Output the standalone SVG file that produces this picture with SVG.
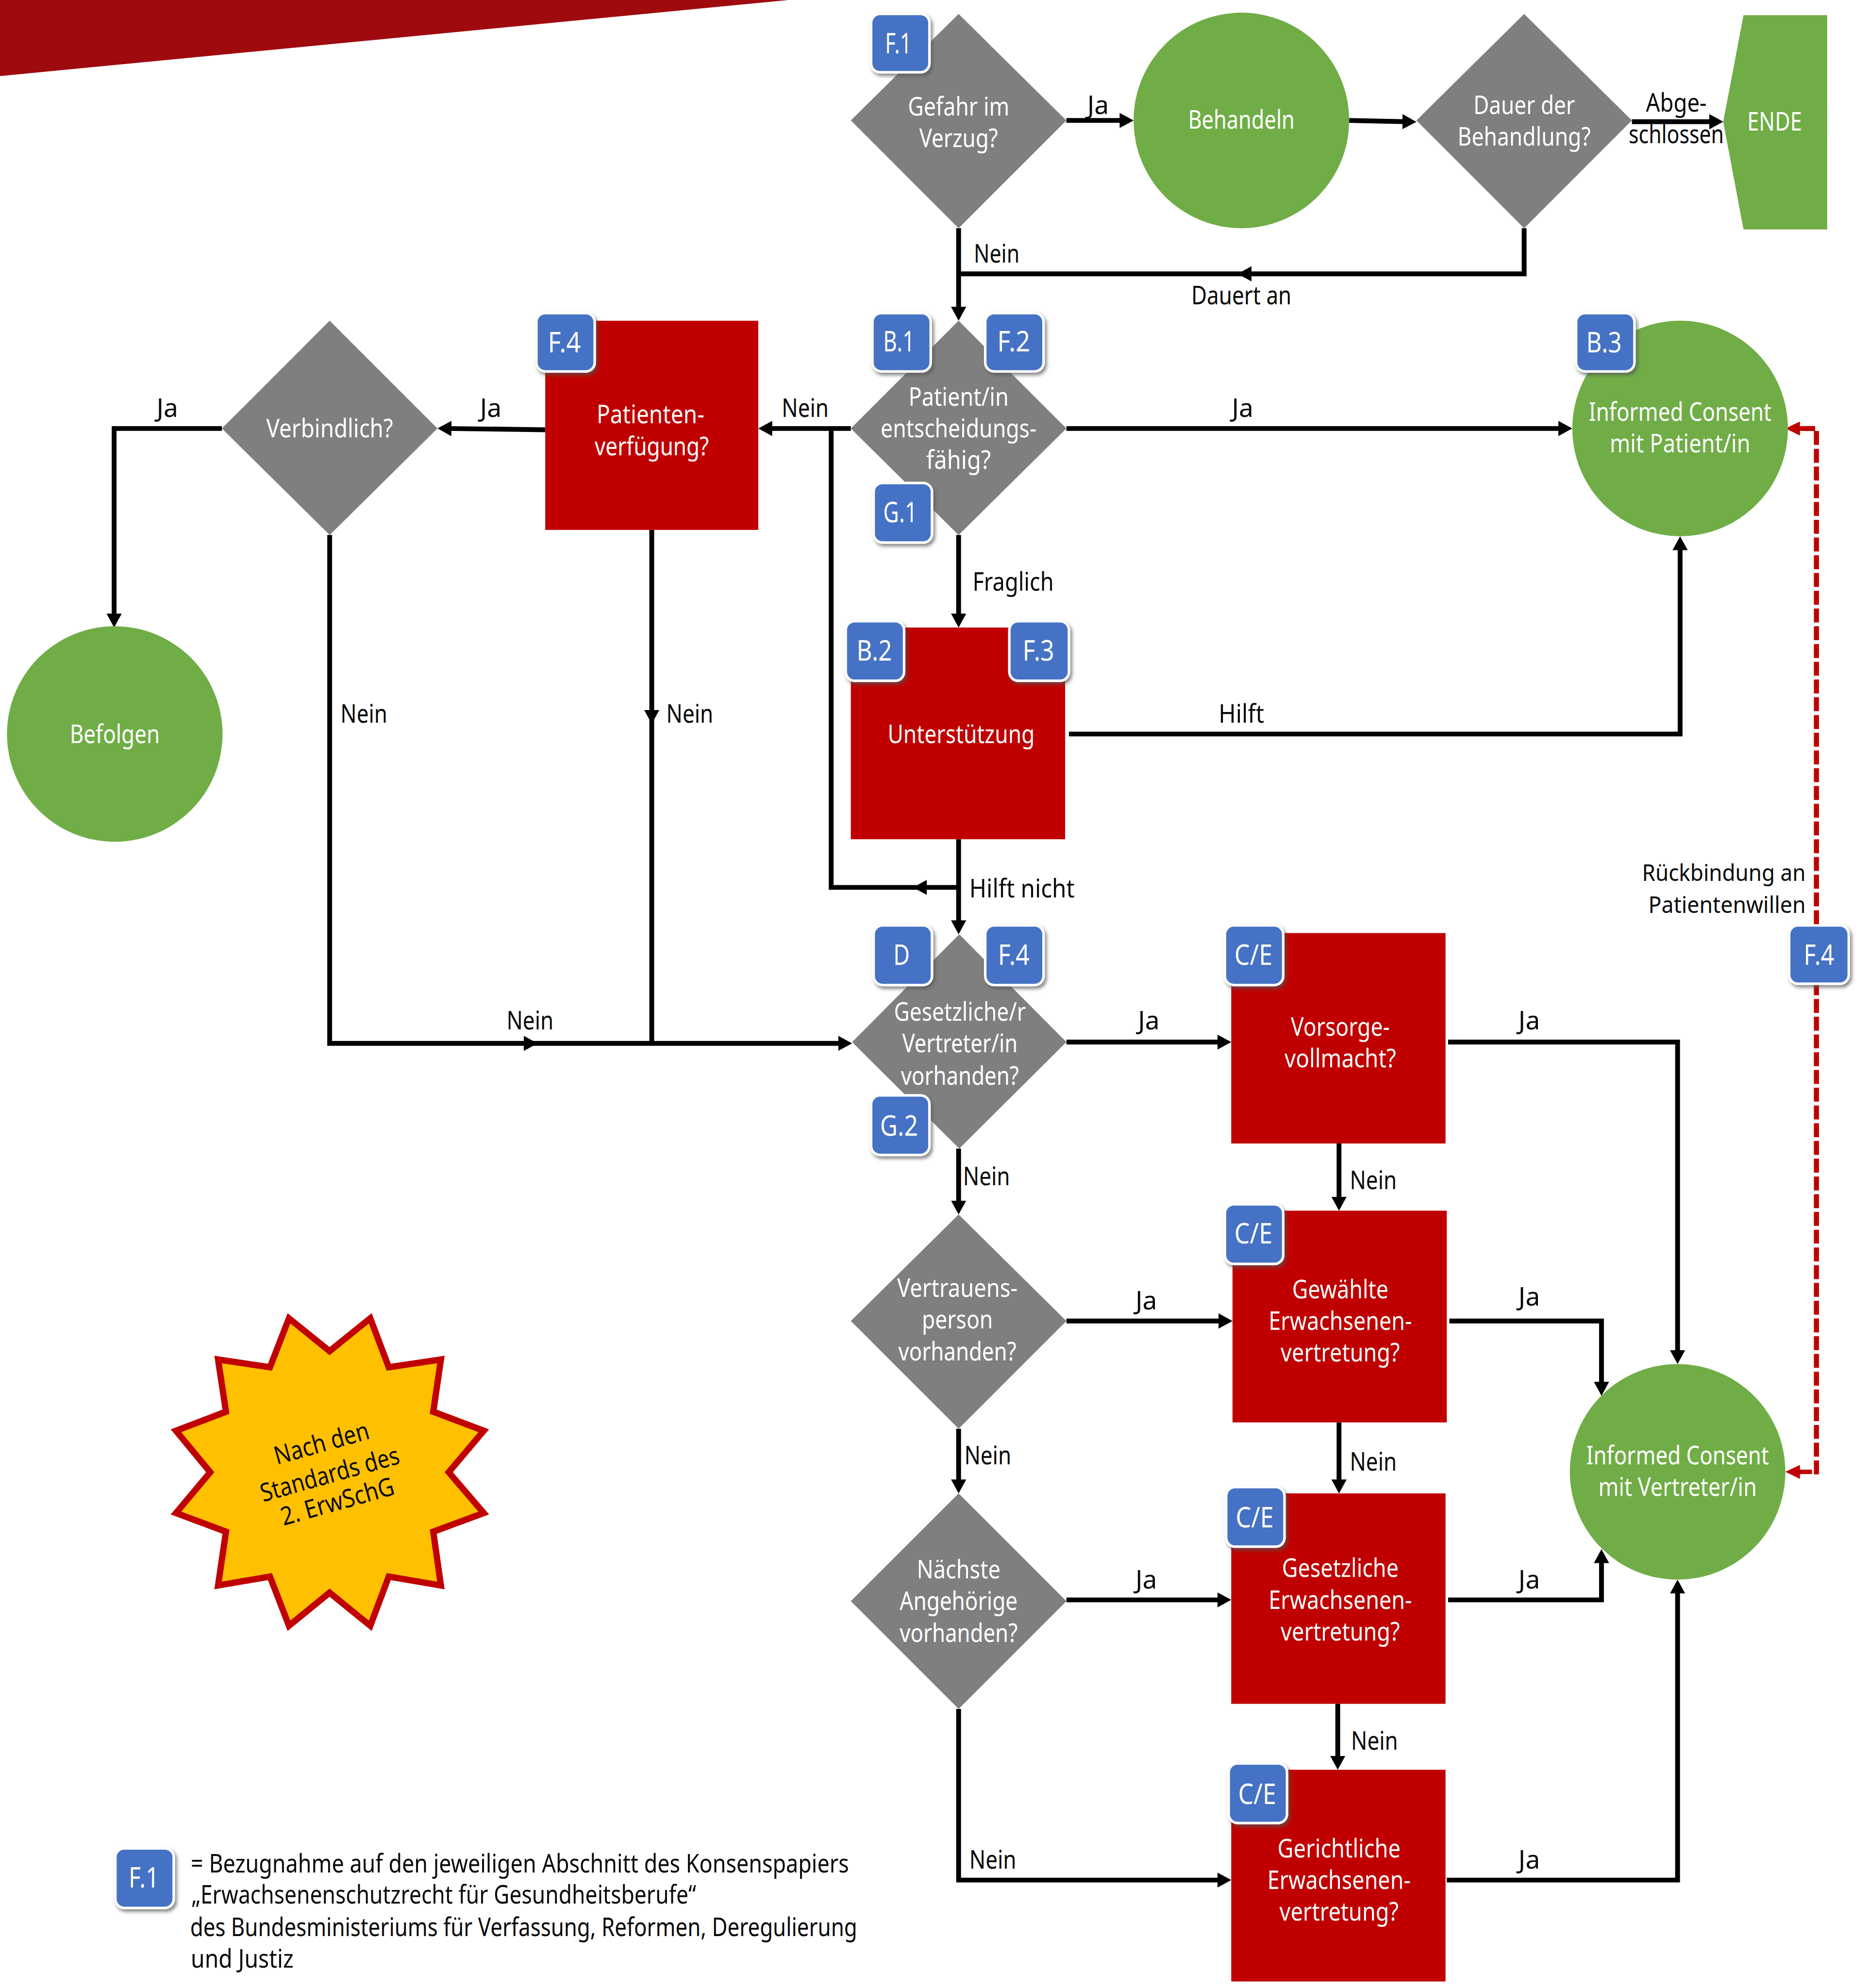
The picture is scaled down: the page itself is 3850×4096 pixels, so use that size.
<svg xmlns="http://www.w3.org/2000/svg" width="3850" height="4096" viewBox="0 0 3850 4096">
<style>
text{font-family:"Noto Sans","Open Sans","Liberation Sans",sans-serif;font-size:20px;text-anchor:middle}
.w{fill:#fff}
.k{fill:#0a0a0a}
.s{font-size:18px}
.dia{fill:#7f7f7f}
.grn{fill:#70ad47}
.red{fill:#c00000}
.b rect{fill:#4472c4;stroke:#fff;stroke-width:2;filter:url(#sh)}
.b text{fill:#fff;font-size:22px}
.c{fill:none;stroke:#000;stroke-width:3.8;stroke-linejoin:miter}
.a{marker-end:url(#ah)}
.rd{fill:none;stroke:#c00000;stroke-width:4;stroke-dasharray:11 3}
</style>
<defs>
<marker id="ah" markerUnits="userSpaceOnUse" markerWidth="13" markerHeight="13" viewBox="0 0 13 13" refX="3" refY="6.500" orient="auto"><path d="M0,0.500 L11,6.500 L0,12.500z" fill="#000"/></marker>
<marker id="ar" markerUnits="userSpaceOnUse" markerWidth="12" markerHeight="12" viewBox="0 0 12 12" refX="2.500" refY="6" orient="auto"><path d="M0,0.500 L11.500,6 L0,11.500z" fill="#c00000"/></marker>
<filter id="sh" x="-20%" y="-20%" width="150%" height="150%"><feDropShadow dx="1.500" dy="2" stdDeviation="1.500" flood-color="#555" flood-opacity="0.7"/></filter>
</defs>
<g transform="scale(2.612)">
<polygon id="banner" points="0,0 622,0 0,60" fill="#9f0a0e"/>

<g id="connectors">
<path class="c a" d="M841,95H886"/>
<path class="c a" d="M1064,95L1109,96"/>
<path class="c a" d="M1287,96H1351"/>
<path class="c a" d="M756,180V245"/>
<path class="c a" d="M1202,180V216H984"/>
<path class="c" d="M985,216H756"/>
<path class="c a" d="M841,338H1232"/>
<path class="c a" d="M671,338H606"/>
<path class="c a" d="M430,339L353,338"/>
<path class="c a" d="M175,338H90V487"/>
<path class="c a" d="M756,422V487"/>
<path class="c a" d="M843,579H1325V431"/>
<path class="c a" d="M756,662V729"/>
<path class="c a" d="M756,700H728"/>
<path class="c" d="M730,700H655.500V338"/>
<path class="c a" d="M260,422V823H416"/>
<path class="c a" d="M415,823H664"/>
<path class="c a" d="M514,418V563"/>
<path class="c" d="M514,562V823"/>
<path class="c a" d="M841,822H963"/>
<path class="c a" d="M1142,822H1323V1068"/>
<path class="c a" d="M756,906V950"/>
<path class="c a" d="M1056,902V947"/>
<path class="c a" d="M841,1042H964"/>
<path class="c a" d="M1143,1042H1263V1093"/>
<path class="c a" d="M756,1127V1170"/>
<path class="c a" d="M1056,1122V1170"/>
<path class="c a" d="M841,1262H963"/>
<path class="c a" d="M1142,1262H1263V1230"/>
<path class="c a" d="M1055,1344V1388"/>
<path class="c a" d="M756,1348V1483H963"/>
<path class="c a" d="M1141,1483H1323V1254"/>
<path class="rd" d="M1432.500,1163V338H1420"/>
<path d="M1429,1161H1417" fill="none" stroke="#c00000" stroke-width="3.500" marker-end="url(#ar)"/>
<path d="M1421,338H1417" fill="none" stroke="#c00000" stroke-width="3.500" marker-end="url(#ar)"/>
</g>

<g id="n-gefahr"><polygon class="dia" points="756,11 841,95 756,180 671,95"/><text class="w" x="756" y="91" textLength="80" lengthAdjust="spacingAndGlyphs">Gefahr im</text><text class="w" x="756" y="116" textLength="62" lengthAdjust="spacingAndGlyphs">Verzug?</text></g>
<g id="n-behandeln"><circle class="grn" cx="979" cy="95" r="85"/><text class="w" x="979" y="101.500" textLength="84" lengthAdjust="spacingAndGlyphs">Behandeln</text></g>
<g id="n-dauer"><polygon class="dia" points="1202,11 1287,95 1202,180 1117,95"/><text class="w" x="1202" y="90" textLength="80" lengthAdjust="spacingAndGlyphs">Dauer der</text><text class="w" x="1202" y="115" textLength="105" lengthAdjust="spacingAndGlyphs">Behandlung?</text></g>
<g id="n-ende"><polygon class="grn" points="1375,12 1441,12 1441,181 1375,181 1359,96"/><text class="w" x="1399.500" y="103" textLength="43" lengthAdjust="spacingAndGlyphs">ENDE</text></g>
<g id="n-patient"><polygon class="dia" points="756,253 841,338 756,422 671,338"/><text class="w" x="756" y="320" textLength="79" lengthAdjust="spacingAndGlyphs">Patient/in</text><text class="w" x="756" y="345" textLength="123" lengthAdjust="spacingAndGlyphs">entscheidungs-</text><text class="w" x="756" y="370" textLength="51" lengthAdjust="spacingAndGlyphs">fähig?</text></g>
<g id="n-verfuegung"><rect class="red" x="430" y="253" width="168" height="165"/><text class="w" x="513" y="334" textLength="85" lengthAdjust="spacingAndGlyphs">Patienten-</text><text class="w" x="514" y="359" textLength="90" lengthAdjust="spacingAndGlyphs">verfügung?</text></g>
<g id="n-verbindlich"><polygon class="dia" points="260,253 345,338 260,422 175,338"/><text class="w" x="260" y="345" textLength="100" lengthAdjust="spacingAndGlyphs">Verbindlich?</text></g>
<g id="n-befolgen"><circle class="grn" cx="90.500" cy="579" r="85"/><text class="w" x="90.500" y="586" textLength="71" lengthAdjust="spacingAndGlyphs">Befolgen</text></g>
<g id="n-ic-patient"><circle class="grn" cx="1325" cy="338" r="85"/><text class="w" x="1325" y="332" textLength="144" lengthAdjust="spacingAndGlyphs">Informed Consent</text><text class="w" x="1325" y="357" textLength="111" lengthAdjust="spacingAndGlyphs">mit Patient/in</text></g>
<g id="n-unterstuetzung"><rect class="red" x="671" y="495" width="169" height="167"/><text class="w" x="758" y="586" textLength="116" lengthAdjust="spacingAndGlyphs">Unterstützung</text></g>
<g id="n-vertreter"><polygon class="dia" points="756.500,737 841,822 756.500,906 672,822"/><text class="w" x="757" y="805" textLength="104" lengthAdjust="spacingAndGlyphs">Gesetzliche/r</text><text class="w" x="757" y="830" textLength="91" lengthAdjust="spacingAndGlyphs">Vertreter/in</text><text class="w" x="757" y="855.500" textLength="93" lengthAdjust="spacingAndGlyphs">vorhanden?</text></g>
<g id="n-vorsorge"><rect class="red" x="971" y="736" width="169" height="166"/><text class="w" x="1057" y="817" textLength="78" lengthAdjust="spacingAndGlyphs">Vorsorge-</text><text class="w" x="1057" y="842" textLength="88" lengthAdjust="spacingAndGlyphs">vollmacht?</text></g>
<g id="n-vertrauen"><polygon class="dia" points="756,958 841,1042 756,1127 671,1042"/><text class="w" x="755" y="1023" textLength="95" lengthAdjust="spacingAndGlyphs">Vertrauens-</text><text class="w" x="755" y="1048" textLength="56" lengthAdjust="spacingAndGlyphs">person</text><text class="w" x="755" y="1073" textLength="93" lengthAdjust="spacingAndGlyphs">vorhanden?</text></g>
<g id="n-gewaehlte"><rect class="red" x="972" y="955" width="169" height="167"/><text class="w" x="1057" y="1024" textLength="76" lengthAdjust="spacingAndGlyphs">Gewählte</text><text class="w" x="1057" y="1049" textLength="113" lengthAdjust="spacingAndGlyphs">Erwachsenen-</text><text class="w" x="1057" y="1074" textLength="94" lengthAdjust="spacingAndGlyphs">vertretung?</text></g>
<g id="n-naechste"><polygon class="dia" points="756,1178 841,1263 756,1348 671,1263"/><text class="w" x="756" y="1245" textLength="66" lengthAdjust="spacingAndGlyphs">Nächste</text><text class="w" x="756" y="1270" textLength="93" lengthAdjust="spacingAndGlyphs">Angehörige</text><text class="w" x="756" y="1295" textLength="93" lengthAdjust="spacingAndGlyphs">vorhanden?</text></g>
<g id="n-gesetzliche"><rect class="red" x="971" y="1178" width="169" height="166"/><text class="w" x="1057" y="1244" textLength="92" lengthAdjust="spacingAndGlyphs">Gesetzliche</text><text class="w" x="1057" y="1269" textLength="113" lengthAdjust="spacingAndGlyphs">Erwachsenen-</text><text class="w" x="1057" y="1294" textLength="94" lengthAdjust="spacingAndGlyphs">vertretung?</text></g>
<g id="n-gerichtliche"><rect class="red" x="971" y="1396" width="169" height="167"/><text class="w" x="1056" y="1465" textLength="97" lengthAdjust="spacingAndGlyphs">Gerichtliche</text><text class="w" x="1056" y="1490" textLength="113" lengthAdjust="spacingAndGlyphs">Erwachsenen-</text><text class="w" x="1056" y="1515" textLength="94" lengthAdjust="spacingAndGlyphs">vertretung?</text></g>
<g id="n-ic-vertreter"><circle class="grn" cx="1323" cy="1161" r="85"/><text class="w" x="1323" y="1155" textLength="144" lengthAdjust="spacingAndGlyphs">Informed Consent</text><text class="w" x="1323" y="1180" textLength="125" lengthAdjust="spacingAndGlyphs">mit Vertreter/in</text></g>
<g id="n-star"><polygon points="227.900,1039.900 259.900,1065.800 292,1039.900 306.600,1078.500 347.700,1072.400 341.700,1113.600 381.500,1128.600 353.900,1161.300 381.500,1193.500 341.700,1208.200 347.700,1250.600 306.600,1243.600 292,1282.400 259.900,1256.300 227.900,1282.400 212.900,1243.600 172,1250.600 178.200,1208.200 138.800,1193.500 165.800,1161.300 138.800,1128.600 178.200,1113.600 172,1072.400 212.900,1078.500" fill="#ffc000" stroke="#c00000" stroke-width="5" stroke-miterlimit="10"/>
<text class="k" transform="translate(255.500,1145) rotate(-15.700)" textLength="77" lengthAdjust="spacingAndGlyphs">Nach den</text><text class="k" transform="translate(262,1169.500) rotate(-15.700)" textLength="113" lengthAdjust="spacingAndGlyphs">Standards des</text><text class="k" transform="translate(268,1191) rotate(-15.700)" textLength="92" lengthAdjust="spacingAndGlyphs">2. ErwSchG</text></g>

<g class="b" id="b-f1"><rect x="687" y="11" width="46" height="46" rx="7"/><text x="708.500" y="42" textLength="21" lengthAdjust="spacingAndGlyphs">F.1</text></g>
<g class="b" id="b-b1"><rect x="688" y="247" width="46" height="46" rx="7"/><text x="709" y="277" textLength="25" lengthAdjust="spacingAndGlyphs">B.1</text></g>
<g class="b" id="b-f2"><rect x="777" y="247" width="46" height="46" rx="7"/><text x="799.500" y="277" textLength="26" lengthAdjust="spacingAndGlyphs">F.2</text></g>
<g class="b" id="b-g1"><rect x="689" y="381" width="46" height="47" rx="7"/><text x="710" y="412" textLength="27" lengthAdjust="spacingAndGlyphs">G.1</text></g>
<g class="b" id="b-f4a"><rect x="423" y="247" width="46" height="46" rx="7"/><text x="445" y="278" textLength="26" lengthAdjust="spacingAndGlyphs">F.4</text></g>
<g class="b" id="b-b3"><rect x="1243" y="247" width="46" height="46" rx="7"/><text x="1265" y="278" textLength="28" lengthAdjust="spacingAndGlyphs">B.3</text></g>
<g class="b" id="b-b2"><rect x="667" y="490" width="46" height="47" rx="7"/><text x="689.500" y="521" textLength="28" lengthAdjust="spacingAndGlyphs">B.2</text></g>
<g class="b" id="b-f3"><rect x="796" y="490" width="47" height="47" rx="7"/><text x="819" y="521" textLength="25" lengthAdjust="spacingAndGlyphs">F.3</text></g>
<g class="b" id="b-d"><rect x="689" y="730" width="46" height="47" rx="7"/><text x="711" y="761" textLength="13" lengthAdjust="spacingAndGlyphs">D</text></g>
<g class="b" id="b-f4b"><rect x="777" y="730" width="46" height="47" rx="7"/><text x="799.500" y="761" textLength="25" lengthAdjust="spacingAndGlyphs">F.4</text></g>
<g class="b" id="b-g2"><rect x="687" y="864" width="46" height="47" rx="7"/><text x="709" y="896" textLength="30" lengthAdjust="spacingAndGlyphs">G.2</text></g>
<g class="b" id="b-ce1"><rect x="966" y="730" width="46" height="47" rx="7"/><text x="988.500" y="761" textLength="30" lengthAdjust="spacingAndGlyphs">C/E</text></g>
<g class="b" id="b-ce2"><rect x="966" y="950" width="46" height="47" rx="7"/><text x="988.500" y="981" textLength="30" lengthAdjust="spacingAndGlyphs">C/E</text></g>
<g class="b" id="b-ce3"><rect x="967" y="1173" width="46" height="47" rx="7"/><text x="989.500" y="1205" textLength="30" lengthAdjust="spacingAndGlyphs">C/E</text></g>
<g class="b" id="b-ce4"><rect x="969" y="1391" width="46" height="47" rx="7"/><text x="991.500" y="1423" textLength="30" lengthAdjust="spacingAndGlyphs">C/E</text></g>
<g class="b" id="b-f4c"><rect x="1411" y="730" width="47" height="46" rx="7"/><text x="1434.500" y="761" textLength="24" lengthAdjust="spacingAndGlyphs">F.4</text></g>
<g class="b" id="b-legend"><rect x="91" y="1458" width="46" height="47" rx="7"/><text x="113.500" y="1489" textLength="24" lengthAdjust="spacingAndGlyphs">F.1</text></g>

<g id="labels">
<text class="k" x="866" y="90" textLength="17" lengthAdjust="spacingAndGlyphs">Ja</text>
<text class="k" x="786" y="207" textLength="36" lengthAdjust="spacingAndGlyphs">Nein</text>
<text class="k" x="979" y="240" textLength="79" lengthAdjust="spacingAndGlyphs">Dauert an</text>
<text class="k" x="1322" y="88" textLength="48" lengthAdjust="spacingAndGlyphs">Abge-</text>
<text class="k" x="1322" y="113" textLength="75" lengthAdjust="spacingAndGlyphs">schlossen</text>
<text class="k" x="387" y="329" textLength="17" lengthAdjust="spacingAndGlyphs">Ja</text>
<text class="k" x="132" y="329" textLength="17" lengthAdjust="spacingAndGlyphs">Ja</text>
<text class="k" x="635" y="329" textLength="37" lengthAdjust="spacingAndGlyphs">Nein</text>
<text class="k" x="980" y="329" textLength="17" lengthAdjust="spacingAndGlyphs">Ja</text>
<text class="k" x="799" y="466" textLength="64" lengthAdjust="spacingAndGlyphs">Fraglich</text>
<text class="k" x="287" y="570" textLength="37" lengthAdjust="spacingAndGlyphs">Nein</text>
<text class="k" x="544" y="570" textLength="37" lengthAdjust="spacingAndGlyphs">Nein</text>
<text class="k" x="979" y="570" textLength="36" lengthAdjust="spacingAndGlyphs">Hilft</text>
<text class="k" x="806" y="708" textLength="83" lengthAdjust="spacingAndGlyphs">Hilft nicht</text>
<text class="k s" x="1359.500" y="695" textLength="129" lengthAdjust="spacingAndGlyphs">Rückbindung an</text>
<text class="k s" x="1362" y="720" textLength="124" lengthAdjust="spacingAndGlyphs">Patientenwillen</text>
<text class="k" x="906" y="812" textLength="17" lengthAdjust="spacingAndGlyphs">Ja</text>
<text class="k" x="418" y="812" textLength="37" lengthAdjust="spacingAndGlyphs">Nein</text>
<text class="k" x="1206" y="812" textLength="17" lengthAdjust="spacingAndGlyphs">Ja</text>
<text class="k" x="778" y="935" textLength="37" lengthAdjust="spacingAndGlyphs">Nein</text>
<text class="k" x="1083" y="938" textLength="37" lengthAdjust="spacingAndGlyphs">Nein</text>
<text class="k" x="904" y="1033" textLength="17" lengthAdjust="spacingAndGlyphs">Ja</text>
<text class="k" x="1206" y="1030" textLength="17" lengthAdjust="spacingAndGlyphs">Ja</text>
<text class="k" x="779" y="1155" textLength="37" lengthAdjust="spacingAndGlyphs">Nein</text>
<text class="k" x="1083" y="1160" textLength="37" lengthAdjust="spacingAndGlyphs">Nein</text>
<text class="k" x="904" y="1253" textLength="17" lengthAdjust="spacingAndGlyphs">Ja</text>
<text class="k" x="1206" y="1253" textLength="17" lengthAdjust="spacingAndGlyphs">Ja</text>
<text class="k" x="1084" y="1380" textLength="37" lengthAdjust="spacingAndGlyphs">Nein</text>
<text class="k" x="783" y="1474" textLength="37" lengthAdjust="spacingAndGlyphs">Nein</text>
<text class="k" x="1206" y="1474" textLength="17" lengthAdjust="spacingAndGlyphs">Ja</text>
</g>
<g id="legend">
<text class="k" x="410" y="1477" textLength="519" lengthAdjust="spacingAndGlyphs">= Bezugnahme auf den jeweiligen Abschnitt des Konsenspapiers</text>
<text class="k" x="350" y="1501.500" textLength="398" lengthAdjust="spacingAndGlyphs">„Erwachsenenschutzrecht für Gesundheitsberufe“</text>
<text class="k" x="413" y="1527" textLength="526" lengthAdjust="spacingAndGlyphs">des Bundesministeriums für Verfassung, Reformen, Deregulierung</text>
<text class="k" x="191" y="1552" textLength="81" lengthAdjust="spacingAndGlyphs">und Justiz</text>
</g>
</g>
</svg>
